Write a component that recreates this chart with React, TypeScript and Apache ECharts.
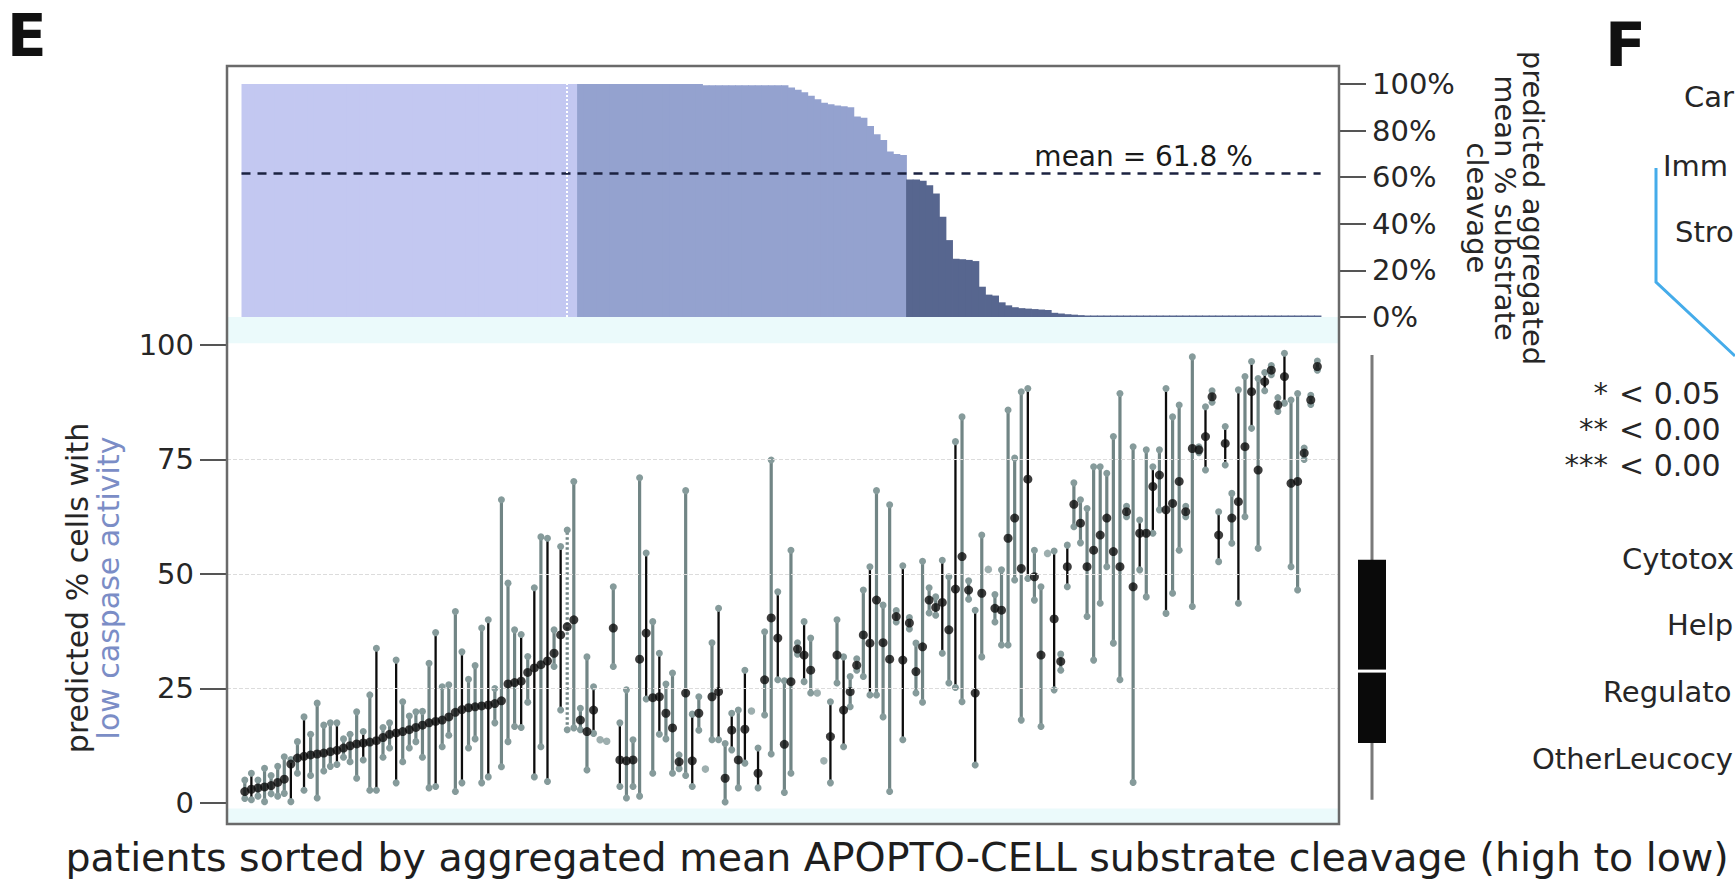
import React, { useEffect, useRef } from "react";
import * as echarts from "echarts";

const FONT = "DejaVu Sans";

// ---- top panel: predicted aggregated mean % substrate cleavage per patient (sorted high to low)
const TOP_LIGHT = [
  100, 100, 100, 100, 100, 100, 100, 100, 100, 100,
  100, 100, 100, 100, 100, 100, 100, 100, 100, 100,
  100, 100, 100, 100, 100, 100, 100, 100, 100, 100,
  100, 100, 100, 100, 100, 100, 100, 100, 100, 100,
  100, 100, 100, 100, 100, 100, 100, 100, 100, 100,
  100,
];
const TOP_MEDIUM = [
  100, 100, 100, 100, 100, 100, 100, 100, 100, 100,
  100, 100, 100, 100, 100, 100, 100, 100, 100,
  99.5, 99.5, 99.5, 99.5, 99.5, 99.5, 99.5, 99.5, 99.5, 99.5, 99.5, 99.5, 99.5,
  98.5, 97.5, 96.5, 95, 93.5, 92, 91.3, 90.8, 90.4, 90,
  86, 85.5, 82, 78.4, 76, 71, 70, 69.5,
];
const TOP_DARK = [
  59, 59, 58.5, 56.5, 53, 43, 33, 25, 24.8, 24.5,
  24, 13, 9.6, 9.2, 6.3, 5, 4.2, 3.8, 3.6, 3.4,
  3.2, 3.0, 1.8, 1.5, 1.2, 1.0, 0.8, 0.6, 0.5, 0.45,
  0.4, 0.35, 0.3, 0.3, 0.25, 0.25, 0.2, 0.2, 0.2, 0.15,
  0.15, 0.15, 0.1, 0.1, 0.1, 0.1, 0.1, 0.05, 0.05, 0.05,
  0.05, 0.05, 0, 0, 0, 0, 0, 0, 0, 0,
  0, 0, 0,
];
const MEAN_CLEAVAGE = 61.8;
const MEAN_LABEL = "mean = 61.8 %";
const MEAN_LABEL_AT = 136.6;
const DOTTED_PATIENT = 49;

// ---- bottom panel: predicted % cells with low caspase activity
const MID = [
  2.5, 3.0, 3.3, 3.5, 3.8, 4.5, 5.2, 8.5, 9.8, 10.2,
  10.5, 10.7, 10.9, 11.2, 11.5, 12, 12.5, 12.9, 13.1, 13.3,
  13.6, 14.3, 15, 15.3, 15.6, 16, 16.5, 17, 17.5, 17.8,
  18.1, 18.8, 19.8, 20.4, 20.8, 21.0, 21.2, 21.4, 21.7, 22.3,
  26, 26.3, 26.6, 28.5, 29.5, 30.2, 31, 32.7, 36.7, 38.5,
  40, 18.1, 15.6, 20.3, 13.8, 13.5, 38.2, 9.4, 9.2, 9.4,
  31.4, 37.1, 23, 23.2, 19.6, 16.4, 9, 24, 9.2, 19.6,
  7.4, 23.2, 24.3, 5.4, 15.9, 9.4, 16.1, 20.1, 6.5, 26.9,
  40.4, 36, 12.8, 26.5, 33.6, 32.3, 29, 24, 9.2, 14.5,
  32.3, 20.3, 24.3, 30.1, 36.7, 34.9, 44.3, 35, 31.4, 40.7,
  31.2, 39.3, 28.7, 34.1, 44.3, 42.7, 43.8, 37.8, 46.7, 53.8,
  46.5, 24, 45.8, 51, 42.5, 42.1, 57.8, 62.2, 51.2, 70.7,
  49.4, 32.3, 54.5, 40.2, 30.9, 51.6, 65.2, 61.1, 51.6, 55.2,
  58.5, 62.2, 54.9, 51.6, 63.6, 47.2, 58.9, 58.9, 69.1, 71.6,
  64, 65.4, 70.2, 63.6, 77.4, 77.1, 80, 88.7, 58.5, 78.5,
  62.2, 65.8, 77.8, 89.8, 72.7, 92, 94.5, 86.9, 93.1, 69.8,
  70.2, 76.4, 88, 95.3,
];
const LO = [
  1, 0.7, 1.5, 0.3, 2, 1.5, 2.1, 0.3, 6.5, 2.8,
  6, 1.1, 7, 8, 8.4, 10, 9, 5.4, 9.4, 2.8,
  2.8, 10, 12, 4.4, 9, 12, 13.4, 10, 3.3, 3.6,
  12.3, 14.8, 2.5, 4.4, 12, 14, 4.4, 5.7, 17.5, 7.9,
  13.4, 16.7, 16.5, 22, 5.7, 12.3, 4.7, 29.8, 20.3, 16,
  16.4, 16, 7.2, 15.2, 13.8, 13.5, 29.8, 3.6, 1.1, 3.6,
  1.5, 22.7, 6.5, 15, 14, 6.5, 7.5, 6, 3.6, 15.9,
  7.4, 13.8, 13.8, 0.2, 11.6, 3.3, 8.7, 20.1, 3.3, 19.2,
  10.7, 26.9, 2.3, 6.5, 32.5, 26.5, 24, 24, 9.2, 4.4,
  26.2, 12.3, 21, 29, 27.6, 23.6, 23.6, 18.8, 2.5, 39.5,
  13.8, 38, 24, 22, 41.5, 41, 32.7, 26.2, 25.2, 22.1,
  44.5, 8.3, 31.9, 51, 39.5, 34.5, 34.5, 48.7, 18.1, 49,
  44.3, 16.7, 54.5, 24.7, 29, 47.2, 60.3, 56.8, 40.7, 31.2,
  43.6, 51.6, 34.9, 26.9, 62.5, 4.5, 50.9, 45, 58.9, 64,
  41.4, 45.8, 55.2, 62.5, 42.9, 76.5, 72.7, 87.5, 52.7, 73.8,
  56.7, 43.6, 62.5, 81.8, 55.6, 90, 93.5, 85.5, 87.3, 51.6,
  46.5, 75, 87, 94.5,
];
const HI = [
  5, 6.5, 5, 7.6, 6, 8, 10.1, 9.5, 13.4, 18.8,
  15, 21.8, 17, 17.5, 17.5, 14, 15, 19.9, 15.6, 23.6,
  33.8, 16.5, 17.5, 31.2, 22.1, 19, 19.9, 20, 30.5, 37.2,
  25.4, 25.8, 41.8, 33, 27, 30, 38.2, 40, 25, 66.2,
  48, 37.8, 36.8, 32, 47, 58.1, 57.8, 37.8, 56, 59.6,
  70.2, 20.7, 31.9, 25.4, 13.8, 13.5, 47.2, 17.5, 24.7, 13.8,
  71, 54.6, 39.6, 32.7, 26, 28.4, 10.5, 68.2, 19.4, 23.2,
  7.4, 35, 42.5, 13, 19.6, 20.3, 29, 20.1, 12, 37.4,
  74.9, 46.1, 26.7, 55.2, 35, 39.6, 36, 24, 9.2, 22.1,
  40, 31.9, 27.6, 31.5, 46.5, 51.6, 68.2, 43.2, 65.1, 42,
  51.8, 40.5, 34.9, 52.8, 47, 45, 53, 49.4, 78.9, 84.3,
  48.5, 42.1, 58.5, 51, 45.5, 50.9, 85.8, 75.3, 89.8, 90.5,
  55.2, 47.2, 54.5, 55, 32.5, 56.3, 69.9, 66.2, 64.3, 73.4,
  73.4, 72, 80, 89.4, 64.8, 77.8, 61.8, 77.1, 73.4, 77.1,
  90.5, 84.3, 86.9, 64.8, 97.4, 77.8, 86.5, 90, 63.6, 82.2,
  67.6, 90.2, 93.1, 96.4, 92.7, 94, 95.5, 88.5, 98.2, 88,
  89.4, 77.5, 89, 96.5,
];
// g = grey range, k = black range, d = dotted range, o = grey point only
const KIND =
  "gkgggggkgk" + "ggggkgggkg" + "kggkgggggk" + "gggkgggkgg" +
  "ggkgkgkgkd" + "gggkoogkgg" + "gkgkggggkg" + "ogkgkgkokg" +
  "gkgggkgook" + "gkgggkgggg" + "kgggggkgkg" + "gkgogggggk" +
  "ggokgkgggg" + "ggggggkgkg" + "kgggggkgkk" + "gkgkgkggkg" + "gggg";

const BOTTOM_TICKS = [0, 25, 50, 75, 100];
const GRID_LINES = [25, 50, 75];
// whisker min, Q1, median, Q3, whisker max
const BOX_STATS = [0.7, 13.1, 28.8, 53.1, 97.8];

const X_TITLE = "patients sorted by aggregated mean APOPTO-CELL substrate cleavage (high to low)";
const RIGHT_TITLE = "predicted aggregated\nmean % substrate\ncleavage";
const LEFT_TITLE_1 = "predicted % cells with";
const LEFT_TITLE_2 = "low caspase activity";
const F_GROUPS = ["Car", "Imm", "Stro"];
const F_SIG_STARS = ["*", "**", "***"];
const F_SIG_VALUES = ["< 0.05", "< 0.00", "< 0.00"];
const F_CELLS = ["Cytotox", "Help", "Regulato", "OtherLeucocy"];

// ---- colours
const LIGHT = "#c3c8f1";
const MEDIUM = "#94a2cf";
const DARK = "#57668f";
const BAND = "#ebfafb";
const GRAY_LINE = "#718585";
const GRAY_CAP = "#869b9b";
const BLACK = "#0c0c0c";
const FRAME_C = "#6a6a6a";
const TEXT = "#262626";
const BLUE_TEXT = "#7b8dc6";

// ---- layout
const FRAME = { left: 227, top: 66, width: 1112, height: 758 };
const X_MIN = -2.705;
const X_MAX = 166.29;
const Y_MIN = -4.585;
const Y_MAX = 106.11;

function barRender(color: string, minH: number) {
  return (params: any, api: any) => {
    const i = api.value(0);
    const v = api.value(1);
    const p0 = api.coord([i - 0.5, v]);
    const p1 = api.coord([i + 0.5, 0]);
    const h = Math.max(p1[1] - p0[1], minH);
    return {
      type: "rect",
      shape: { x: p0[0], y: p1[1] - h, width: p1[0] - p0[0] + 0.8, height: h },
      style: { fill: color },
    };
  };
}

export default function App() {
  const ref = useRef<HTMLDivElement>(null);
  useEffect(() => {
    if (!ref.current) return;
    const chart = echarts.init(ref.current, null, { renderer: "svg" });
    const kinds = KIND.split("");
    const kindCode: Record<string, number> = { g: 0, k: 1, d: 2, o: 3 };
    const off = TOP_LIGHT.length;
    const off2 = off + TOP_MEDIUM.length;
    const lightData = TOP_LIGHT.map((v, i) => [i, v]);
    const mediumData = TOP_MEDIUM.map((v, i) => [off + i, v]);
    const darkData = TOP_DARK.map((v, i) => [off2 + i, v]);
    const N = off2 + TOP_DARK.length;
    const rangeData = MID.map((_, i) => [i, LO[i], HI[i], kindCode[kinds[i]]]);
    const midData = MID.map((m, i) => ({
      value: [i, m],
      symbolSize: kinds[i] === "o" ? 7.5 : 9,
      itemStyle: { color: kinds[i] === "o" ? GRAY_CAP : BLACK },
    }));

    const txt = (text: string, x: number, y: number, o: any = {}) => ({
      type: "text",
      x,
      y,
      rotation: o.rotation || 0,
      silent: true,
      z: 50,
      style: {
        text,
        fontFamily: o.font || FONT,
        fontSize: o.size || 29,
        fontWeight: o.weight || "normal",
        fill: o.color || TEXT,
        align: o.align || "left",
        verticalAlign: "middle",
        lineHeight: o.lineHeight,
      },
    });

    const graphics: any[] = [
      {
        type: "rect",
        silent: true,
        z: 100,
        shape: { x: FRAME.left, y: FRAME.top, width: FRAME.width, height: FRAME.height },
        style: { fill: "transparent", stroke: FRAME_C, lineWidth: 2.5 },
      },
      txt("E", 7, 36, { size: 58, weight: "bold", color: "#111" }),
      txt("F", 1605, 45, { size: 60, weight: "bold", color: "#111" }),
      txt(X_TITLE, 897, 857, { size: 39.5, align: "center", color: "#1e1e1e" }),
      {
        type: "text",
        x: 93,
        y: 588,
        rotation: Math.PI / 2,
        silent: true,
        style: {
          text: "{a|" + LEFT_TITLE_1 + "}\n{b|" + LEFT_TITLE_2 + "}",
          align: "center",
          verticalAlign: "middle",
          rich: {
            a: { fill: TEXT, color: TEXT, fontFamily: FONT, fontSize: 30, lineHeight: 31 },
            b: { fill: BLUE_TEXT, color: BLUE_TEXT, fontFamily: FONT, fontSize: 30, lineHeight: 31 },
          },
        },
      },
      txt(RIGHT_TITLE, 1505, 208, { size: 29, align: "center", rotation: -Math.PI / 2, lineHeight: 28 }),
      txt(F_GROUPS[0], 1684, 97),
      txt(F_GROUPS[1], 1663, 166),
      txt(F_GROUPS[2], 1675, 232),
      {
        type: "polyline",
        silent: true,
        shape: { points: [[1656, 168], [1656, 282], [1735, 356]] },
        style: { stroke: "#45acea", lineWidth: 3, fill: null },
      },
      txt(F_SIG_STARS[0], 1608, 393, { align: "right" }),
      txt(F_SIG_VALUES[0], 1619, 393, { size: 30 }),
      txt(F_SIG_STARS[1], 1608, 429, { align: "right" }),
      txt(F_SIG_VALUES[1], 1619, 429, { size: 30 }),
      txt(F_SIG_STARS[2], 1608, 465, { align: "right" }),
      txt(F_SIG_VALUES[2], 1619, 465, { size: 30 }),
      txt(F_CELLS[0], 1622, 559),
      txt(F_CELLS[1], 1667, 625),
      txt(F_CELLS[2], 1603, 692),
      txt(F_CELLS[3], 1532, 759),
    ];

    const option: any = {
      animation: false,
      backgroundColor: "#ffffff",
      grid: [
        { left: FRAME.left, top: 84, width: FRAME.width, height: 233 },
        { left: FRAME.left, top: 317, width: FRAME.width, height: 507 },
        { left: 1357, top: 317, width: 30, height: 507 },
      ],
      xAxis: [
        { gridIndex: 0, type: "value", min: X_MIN, max: X_MAX, show: false, axisLine: { onZero: false } },
        { gridIndex: 1, type: "value", min: X_MIN, max: X_MAX, show: false, axisLine: { onZero: false } },
        { gridIndex: 2, type: "value", min: 0, max: 1, show: false, axisLine: { onZero: false } },
      ],
      yAxis: [
        {
          gridIndex: 0,
          type: "value",
          position: "right",
          min: 0,
          max: 100,
          interval: 20,
          axisLine: { show: false, onZero: false },
          axisTick: { show: true, length: 27, lineStyle: { color: "#555", width: 2 } },
          axisLabel: {
            formatter: "{value}%",
            fontFamily: FONT,
            fontSize: 29,
            color: TEXT,
            margin: 33,
          },
          splitLine: { show: false },
        },
        {
          gridIndex: 1,
          type: "value",
          position: "left",
          min: Y_MIN,
          max: Y_MAX,
          axisLine: { show: false, onZero: false },
          axisTick: {
            show: true,
            length: 27,
            lineStyle: { color: "#555", width: 2 },
            customValues: BOTTOM_TICKS,
          },
          axisLabel: {
            customValues: BOTTOM_TICKS,
            fontFamily: FONT,
            fontSize: 29,
            color: TEXT,
            margin: 33,
          },
          splitLine: { show: false },
        },
        { gridIndex: 2, type: "value", min: Y_MIN, max: Y_MAX, show: false, axisLine: { onZero: false } },
      ],
      series: [
        {
          type: "custom",
          name: "light",
          xAxisIndex: 0,
          yAxisIndex: 0,
          data: lightData,
          encode: { x: 0, y: 1 },
          renderItem: barRender(LIGHT, 0),
          silent: true,
        },
        {
          type: "custom",
          name: "medium",
          xAxisIndex: 0,
          yAxisIndex: 0,
          data: mediumData,
          encode: { x: 0, y: 1 },
          renderItem: barRender(MEDIUM, 0),
          silent: true,
        },
        {
          type: "custom",
          name: "dark",
          xAxisIndex: 0,
          yAxisIndex: 0,
          data: darkData,
          encode: { x: 0, y: 1 },
          renderItem: barRender(DARK, 1.5),
          silent: true,
          z: 3,
          markLine: {
            silent: true,
            symbol: ["none", "none"],
            label: { show: false },
            data: [
              [
                { coord: [-0.5, MEAN_CLEAVAGE], lineStyle: { color: "#1b2240", type: [9, 7], width: 2.5 } },
                { coord: [N - 0.5, MEAN_CLEAVAGE] },
              ],
              [
                { coord: [DOTTED_PATIENT, 0], lineStyle: { color: "#ffffff", type: "dotted", width: 2 } },
                { coord: [DOTTED_PATIENT, 100] },
              ],
            ],
          },
        },
        {
          type: "custom",
          name: "range",
          xAxisIndex: 1,
          yAxisIndex: 1,
          data: rangeData,
          encode: { x: 0, y: [1, 2] },
          silent: true,
          z: 3,
          renderItem: (params: any, api: any) => {
            const i = api.value(0);
            const lo = api.value(1);
            const hi = api.value(2);
            const kind = api.value(3);
            if (kind === 3) return null;
            const a = api.coord([i, lo]);
            const b = api.coord([i, hi]);
            const black = kind === 1;
            const style: any = { stroke: black ? BLACK : GRAY_LINE, lineWidth: black ? 2.3 : 3.2 };
            if (kind === 2) style.lineDash = [2.5, 2.5];
            return {
              type: "group",
              children: [
                { type: "line", shape: { x1: a[0], y1: a[1], x2: b[0], y2: b[1] }, style },
                { type: "circle", shape: { cx: a[0], cy: a[1], r: 3.5 }, style: { fill: GRAY_CAP } },
                { type: "circle", shape: { cx: b[0], cy: b[1], r: 3.5 }, style: { fill: GRAY_CAP } },
              ],
            };
          },
        },
        {
          type: "scatter",
          name: "mid",
          xAxisIndex: 1,
          yAxisIndex: 1,
          data: midData,
          symbol: "circle",
          silent: true,
          z: 4,
          markLine: {
            silent: true,
            symbol: ["none", "none"],
            label: { show: false },
            lineStyle: { color: "#dcdcdc", type: "dashed", width: 1 },
            data: GRID_LINES.map((v) => ({ yAxis: v })),
          },
          markArea: {
            silent: true,
            itemStyle: { color: BAND },
            data: [
              [{ yAxis: 100.4 }, { yAxis: Y_MAX }],
              [{ yAxis: Y_MIN }, { yAxis: -1.2 }],
            ],
          },
        },
        {
          type: "custom",
          name: "box",
          xAxisIndex: 2,
          yAxisIndex: 2,
          data: [[0.5, ...BOX_STATS]],
          encode: { x: 0, y: [1, 2, 3, 4, 5] },
          silent: true,
          renderItem: (params: any, api: any) => {
            const x = api.value(0);
            const pMin = api.coord([x, api.value(1)]);
            const pQ1 = api.coord([x, api.value(2)]);
            const pMed = api.coord([x, api.value(3)]);
            const pQ3 = api.coord([x, api.value(4)]);
            const pMax = api.coord([x, api.value(5)]);
            const w = 28;
            const cx = pMin[0];
            return {
              type: "group",
              children: [
                { type: "line", shape: { x1: cx, y1: pMax[1], x2: cx, y2: pMin[1] }, style: { stroke: "#7a7a7a", lineWidth: 3 } },
                { type: "rect", shape: { x: cx - w / 2, y: pQ3[1], width: w, height: pQ1[1] - pQ3[1] }, style: { fill: "#0a0a0a" } },
                { type: "line", shape: { x1: cx - w / 2, y1: pMed[1], x2: cx + w / 2, y2: pMed[1] }, style: { stroke: "#ffffff", lineWidth: 3 } },
              ],
            };
          },
        },
      ],
      graphic: graphics,
    };
    chart.setOption(option);
    // mean label placed through the top panel's scales
    const p = chart.convertToPixel({ xAxisIndex: 0, yAxisIndex: 0 } as any, [MEAN_LABEL_AT, MEAN_CLEAVAGE]) as any;
    if (p && isFinite(p[0])) {
      chart.setOption({
        graphic: [
          ...graphics,
          {
            type: "text",
            x: p[0],
            y: p[1] - 3,
            silent: true,
            z: 50,
            style: {
              text: MEAN_LABEL,
              fontFamily: FONT,
              fontSize: 28,
              fill: "#1a1a1a",
              align: "center",
              verticalAlign: "bottom",
            },
          },
        ],
      });
    }
    return () => chart.dispose();
  }, []);
  return (
    <div
      ref={ref}
      style={{ position: "fixed", left: 0, top: 0, width: 1735, height: 883, background: "#fff" }}
    />
  );
}
